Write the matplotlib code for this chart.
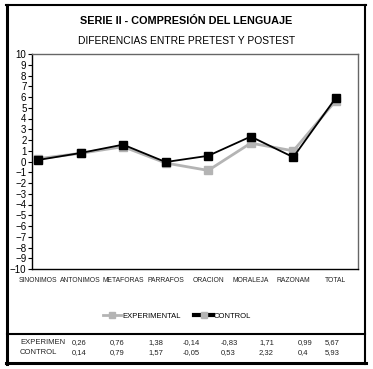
import matplotlib
matplotlib.use("Agg")
import matplotlib.pyplot as plt
from matplotlib.lines import Line2D

plt.rcParams['font.family'] = ['Liberation Sans', 'DejaVu Sans']

categories = ["SINONIMOS", "ANTONIMOS", "METAFORAS", "PARRAFOS",
              "ORACION", "MORALEJA", "RAZONAM", "TOTAL"]
experimental = [0.26, 0.76, 1.38, -0.14, -0.83, 1.71, 0.99, 5.67]
control = [0.14, 0.79, 1.57, -0.05, 0.53, 2.32, 0.4, 5.93]
row_labels = ["EXPERIMEN", "CONTROL"]

W, H = 373, 369
fig = plt.figure(figsize=(W / 100, H / 100), dpi=100)

def fx(px):
    return px / W

def fy(py):
    return 1 - py / H

# main axes
ax = fig.add_axes([fx(32), fy(269), fx(358) - fx(32), fy(54) - fy(269)])
x = list(range(len(categories)))
ax.plot(x, experimental, color='#b4b4b4', lw=2, marker='s', ms=5.5,
        mec='#b4b4b4', mfc='#b4b4b4', zorder=2)
ax.plot(x, control, color='black', lw=1.3, marker='s', ms=5.5,
        mec='black', mfc='black', zorder=3)

ax.set_ylim(-10, 10)
ax.set_xlim(-0.14, 7.52)
ax.set_yticks(range(-10, 11))
ax.set_xticks(x)
ax.set_xticklabels(categories, fontsize=4.9, color='#222222')
ax.tick_params(axis='x', length=0, pad=6)
ax.tick_params(axis='y', length=3, width=0.8, labelsize=7, pad=1,
               direction='out', colors='black')
for side in ['left', 'bottom']:
    ax.spines[side].set_color('black')
    ax.spines[side].set_linewidth(1.0)
for side in ['top', 'right']:
    ax.spines[side].set_color('#666666')
    ax.spines[side].set_linewidth(1.0)

# titles
fig.text(0.5, fy(21), "SERIE II - COMPRESIÓN DEL LENGUAJE", ha='center',
         va='center', fontsize=7.8, fontweight='bold')
fig.text(0.5, fy(41), "DIFERENCIAS ENTRE PRETEST Y POSTEST", ha='center',
         va='center', fontsize=7.4)

# legend
handles = [
    Line2D([], [], color='#b4b4b4', lw=2, marker='s', ms=5, mfc='#b4b4b4', mec='#b4b4b4'),
    Line2D([], [], color='black', lw=3, marker='s', ms=5, mfc='#b4b4b4', mec='#b4b4b4'),
]
fig.legend(handles, ["EXPERIMENTAL", "CONTROL"], loc='center',
           bbox_to_anchor=(fx(177), fy(316)), ncol=2, frameon=False,
           fontsize=5.5, handlelength=2.4, handletextpad=0.1,
           columnspacing=1.8)

# table
col_x = [72, 110, 148, 183, 221, 259, 298, 325]
for r, (label, vals) in enumerate(zip(row_labels, [experimental, control])):
    yy = fy(343 + r * 9.5)
    fig.text(fx(20), yy, label, fontsize=5.5, va='center', ha='left', color='#222222')
    for cx, v in zip(col_x, vals):
        fig.text(fx(cx), yy, str(v).replace('.', ','), fontsize=5.5,
                 va='center', ha='left', color='#222222')

# outer frame and separator
frame = [
    ((7, 7), (5, 364), 2.2),
    ((6, 366), (363, 363), 2.2),
    ((365, 365), (5, 364), 1.5),
    ((6, 366), (5, 5), 1.5),
    ((7, 365), (334, 334), 1.5),
]
for xs, ys, lw in frame:
    fig.add_artist(Line2D([fx(v) for v in xs], [fy(v) for v in ys],
                          color='black', lw=lw, transform=fig.transFigure))

fig.savefig("out.png", dpi=100)
